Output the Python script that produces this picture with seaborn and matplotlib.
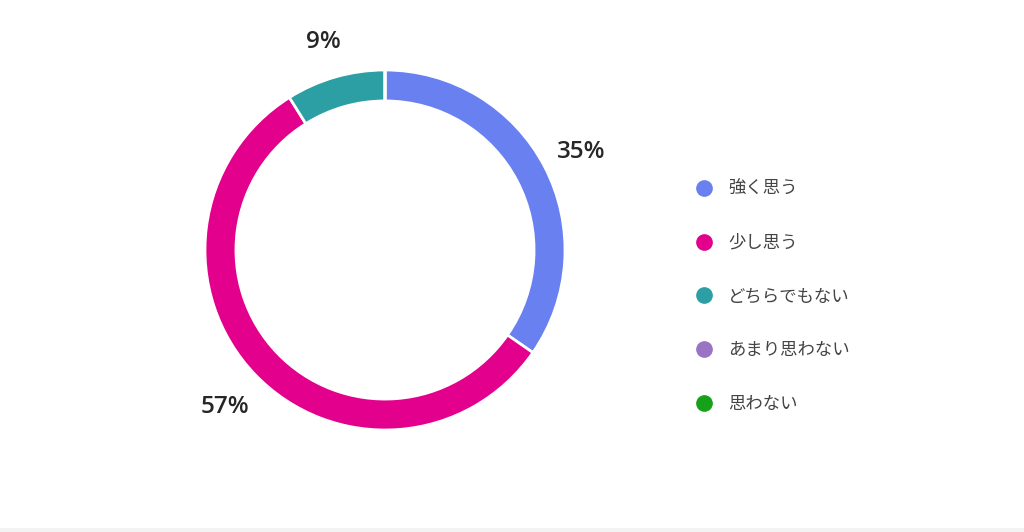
import matplotlib
matplotlib.use('Agg')
import matplotlib.pyplot as plt
from matplotlib.lines import Line2D
from matplotlib.patches import Rectangle
import seaborn as sns

# Data
categories = ['強く思う', '少し思う', 'どちらでもない', 'あまり思わない', '思わない']
percents = [35, 57, 9, 0, 0]
colors = ['#6880f0', '#e3008c', '#2b9fa4', '#9a73c4', '#17a01a']

sns.set_theme(style='white')
plt.rcParams['font.family'] = ['Noto Sans CJK JP', 'DejaVu Sans']

fig = plt.figure(figsize=(10.24, 5.32), dpi=100)
fig.patch.set_facecolor('white')

# donut axes: center (385, 250) px, radius 180 px
ax = fig.add_axes([185 / 1024, 82 / 532, 400 / 1024, 400 / 532])
labels = [f'{p}%' if p else '' for p in percents]
wedges, texts = ax.pie(
    percents, colors=colors, labels=labels, labeldistance=1.23,
    startangle=90, counterclock=False, radius=1,
    wedgeprops=dict(width=0.172, edgecolor='white', linewidth=2),
    textprops=dict(fontsize=17.5, fontweight='semibold', color='#262626',
                   family=['Open Sans', 'DejaVu Sans']),
)
for t in texts:
    t.set_ha('center')
    t.set_va('center')
    x, y = t.get_position()
    t.set_position((x, y - 0.025))
ax.set_xlim(-1.111, 1.111)
ax.set_ylim(-1.111, 1.111)
ax.set_aspect('equal')
ax.axis('off')

# legend
handles = [Line2D([0], [0], marker='o', linestyle='', markersize=11,
                  markerfacecolor=c, markeredgecolor=c) for c in colors]
leg = fig.legend(handles, categories, loc='upper left',
                 bbox_to_anchor=(688 / 1024, 1 - 173 / 532),
                 frameon=False, fontsize=12.5, labelspacing=2.06,
                 handletextpad=0.9, handlelength=1.0, borderaxespad=0)
for t in leg.get_texts():
    t.set_color('#444444')

# light strip at the bottom edge
fig.patches.append(Rectangle((0, 0), 1, 4 / 532, transform=fig.transFigure,
                             facecolor='#f3f3f3', edgecolor='none'))

fig.savefig('out.png', dpi=100, facecolor='white')
